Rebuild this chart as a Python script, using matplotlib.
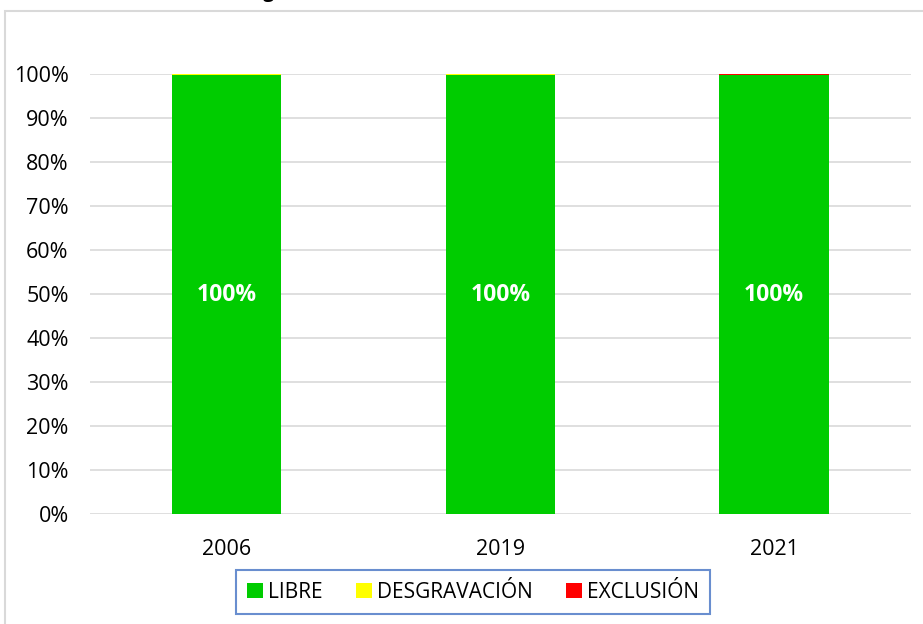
import matplotlib.pyplot as plt
from matplotlib.patches import Rectangle
from matplotlib.ticker import PercentFormatter

# Data (share of each regime, %)
years = ['2006', '2019', '2021']
libre = [99.7, 99.7, 99.7]
desgravacion = [0.3, 0.3, 0.0]
exclusion = [0.0, 0.0, 0.3]
labels = ['100%', '100%', '100%']

plt.rcParams['font.family'] = ['Open Sans', 'DejaVu Sans']

fig = plt.figure(figsize=(9.23, 6.24), dpi=100)
ax = fig.add_axes([0.097, 0.1763, 0.89, 0.7051])

# outer chart border (cut off at right and bottom)
fig.patches.append(Rectangle((5 / 923, -0.1), 1.2, 1.1 - 11 / 624,
                             transform=fig.transFigure, fill=False,
                             edgecolor='#D9D9D9', lw=1.5, zorder=0))

x = range(len(years))
w = 0.4
ax.bar(x, libre, w, color='#00CC00', label='LIBRE', zorder=3)
ax.bar(x, desgravacion, w, bottom=libre, color='#FFFF00', label='DESGRAVACIÓN', zorder=3)
bottom3 = [a + b for a, b in zip(libre, desgravacion)]
ax.bar(x, exclusion, w, bottom=bottom3, color='#FF0000', label='EXCLUSIÓN', zorder=3)

for i, lab in enumerate(labels):
    ax.text(i, libre[i] / 2, lab, ha='center', va='center', color='white',
            fontsize=16.5, fontweight='bold', zorder=4)

ax.set_xlim(-0.5, 2.5)
ax.set_ylim(0, 100)
ax.set_yticks(range(0, 101, 10))
ax.yaxis.set_major_formatter(PercentFormatter(decimals=0))
ax.set_xticks(list(x))
ax.set_xticklabels(years)
ax.tick_params(axis='both', length=0, labelsize=15.5, colors='black')
ax.tick_params(axis='y', pad=15)
ax.tick_params(axis='x', pad=18)
ax.grid(axis='y', color='#D9D9D9', lw=1.2, zorder=0)
ax.set_axisbelow(True)
for s in ax.spines.values():
    s.set_visible(False)

# title, mostly above the visible area (as in the reference)
fig.text(267 / 923, 1 - 1.5 / 624, '(Partidas según arancel)', ha='center', va='bottom',
         fontsize=14, fontweight='bold')

leg = ax.legend(loc='center', bbox_to_anchor=(473 / 923, 1 - 592 / 624),
                bbox_transform=fig.transFigure, ncol=3, frameon=True,
                fancybox=False, edgecolor='#4472C4', fontsize=15,
                handlelength=0.75, handleheight=0.75, handletextpad=0.25,
                columnspacing=1.6, borderpad=0.55, borderaxespad=0)
leg.get_frame().set_linewidth(1.5)

fig.savefig('out.png', dpi=100)
